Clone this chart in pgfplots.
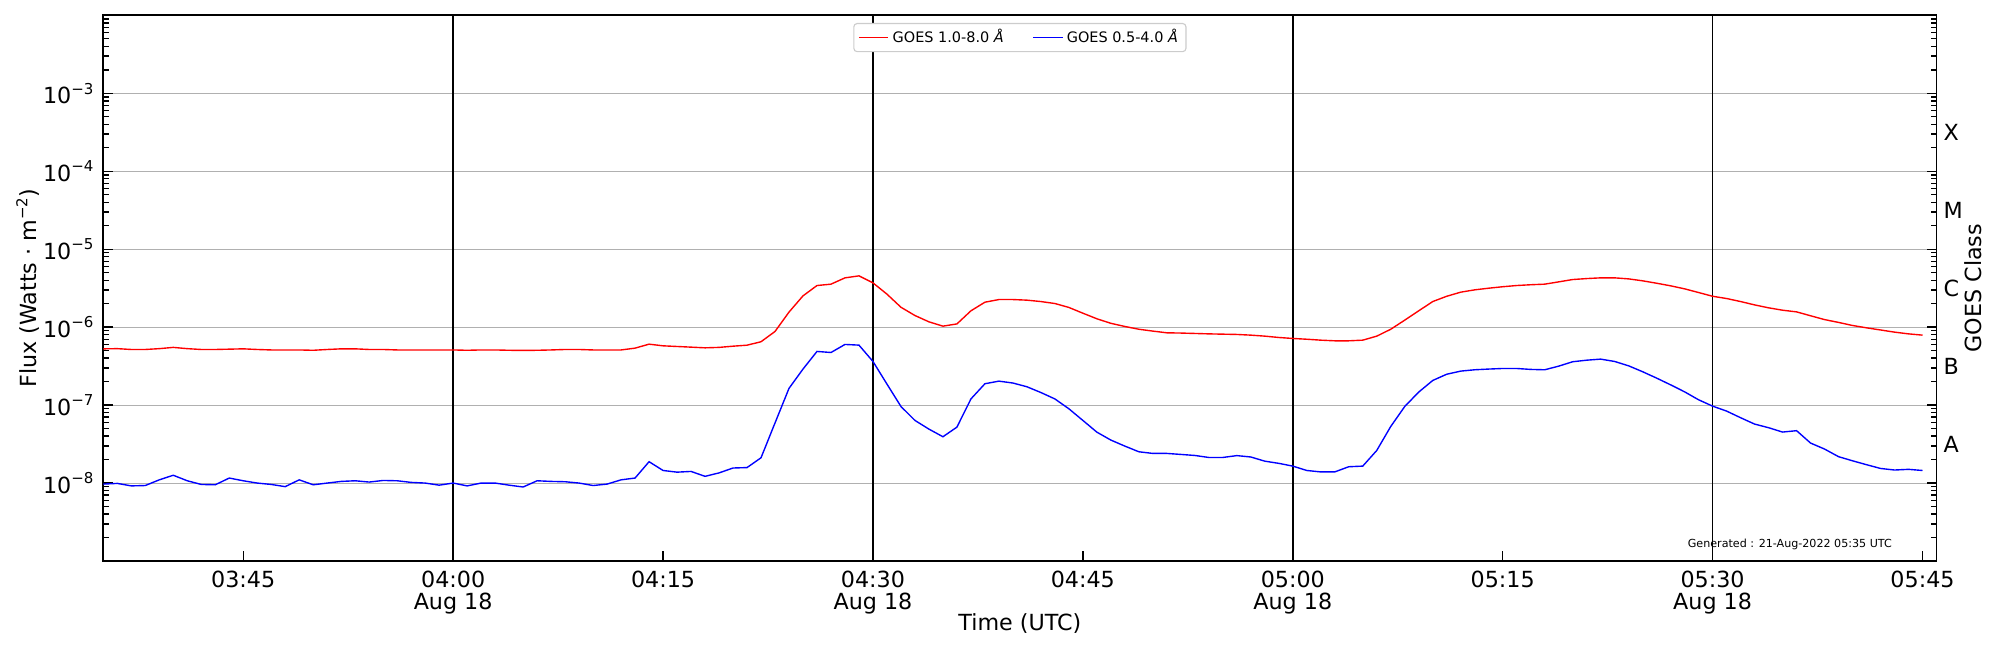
\documentclass[border=0pt]{standalone}
\usepackage{fontspec}
\setmainfont{DejaVu Sans}
\usepackage{pgfplots}
\pgfplotsset{compat=1.18}
\definecolor{gridgray}{HTML}{B0B0B0}
\definecolor{legendgray}{HTML}{CCCCCC}
\newcommand{\sexp}[1]{\raisebox{3.3pt}{\fontsize{5.4}{5.4}\selectfont #1}}
\begin{document}
\begin{tikzpicture}
\useasboundingbox (-37.19pt,-32.04pt) rectangle (682.81pt,201.96pt);
\begin{axis}[
  at={(0,0)}, anchor=south west,
  scale only axis, width=659.95pt, height=196.45pt,
  xmin=-25, xmax=106,
  ymode=log, ymin=1e-9, ymax=1e-2,
  xtick={-15,0,15,30,45,60,75,90,105},
  xticklabels={03:45, 04:00\\Aug 18, 04:15, 04:30\\Aug 18, 04:45, 05:00\\Aug 18, 05:15, 05:30\\Aug 18, 05:45},
  xticklabel style={align=center, font=\fontsize{8}{7.9}\selectfont},
  yticklabel style={font=\fontsize{8}{9}\selectfont},
  xtick pos=lower,
  ytick={1e-8,1e-7,1e-6,1e-5,1e-4,1e-3},
  yticklabels={10\sexp{−8},10\sexp{−7},10\sexp{−6},10\sexp{−5},10\sexp{−4},10\sexp{−3}},
  minor ytick={2e-9,3e-9,4e-9,5e-9,6e-9,7e-9,8e-9,9e-9,
    2e-8,3e-8,4e-8,5e-8,6e-8,7e-8,8e-8,9e-8,
    2e-7,3e-7,4e-7,5e-7,6e-7,7e-7,8e-7,9e-7,
    2e-6,3e-6,4e-6,5e-6,6e-6,7e-6,8e-6,9e-6,
    2e-5,3e-5,4e-5,5e-5,6e-5,7e-5,8e-5,9e-5,
    2e-4,3e-4,4e-4,5e-4,6e-4,7e-4,8e-4,9e-4,
    2e-3,3e-3,4e-3,5e-3,6e-3,7e-3,8e-3,9e-3},
  ytick pos=both, yticklabel pos=left,
  tick align=inside,
  major tick length=3.5pt, minor tick length=2pt,
  tick style={black, line width=0.5pt},
  ymajorgrids, major grid style={color=gridgray, line width=0.4pt},
  extra x ticks={0,30,60,90}, extra x tick labels={},
  extra x tick style={xmajorgrids=true, major grid style={black, line width=0.6pt}},
  axis line style={line width=0.6pt},
  label style={font=\fontsize{8}{9.6}\selectfont},
  xlabel={Time (UTC)},
  ylabel={Flux (Watts · m\sexp{−2})},
  xlabel style={at={(axis description cs:0.5,-0.114)}, anchor=center},
  ylabel style={at={(axis description cs:-0.0411,0.5)}, anchor=center},
  legend style={at={(0.5,0.986)}, anchor=north, legend columns=2, draw=legendgray,
    rounded corners=1.2pt, font=\fontsize{5.2}{6}\selectfont, inner xsep=1.6pt, inner ysep=0.6pt,
    nodes={inner sep=1.3pt},
    /tikz/every even column/.append style={column sep=9pt}},
  legend image code/.code={\draw[#1, line width=0.5pt] (0pt,0pt) -- (10.6pt,0pt);},
]
\addplot[red, line width=0.5pt] coordinates {
(-25,5.27e-7)(-24,5.3e-7)(-23,5.17e-7)(-22,5.17e-7)(-21,5.3e-7)(-20,5.5e-7)(-19,5.3e-7)(-18,5.17e-7)(-17,5.17e-7)(-16,5.22e-7)
(-15,5.27e-7)(-14,5.17e-7)(-13,5.1e-7)(-12,5.1e-7)(-11,5.1e-7)(-10,5.05e-7)(-9,5.17e-7)(-8,5.27e-7)(-7,5.27e-7)(-6,5.17e-7)
(-5,5.17e-7)(-4,5.1e-7)(-3,5.1e-7)(-2,5.1e-7)(-1,5.1e-7)(0,5.1e-7)(1,5.05e-7)(2,5.1e-7)(3,5.1e-7)(4,5.05e-7)
(5,5.03e-7)(6,5.05e-7)(7,5.1e-7)(8,5.17e-7)(9,5.17e-7)(10,5.1e-7)(11,5.1e-7)(12,5.1e-7)(13,5.38e-7)(14,6.05e-7)
(15,5.76e-7)(16,5.65e-7)(17,5.54e-7)(18,5.43e-7)(19,5.5e-7)(20,5.7e-7)(21,5.87e-7)(22,6.5e-7)(23,8.8e-7)(24,1.56e-6)
(25,2.52e-6)(26,3.42e-6)(27,3.56e-6)(28,4.29e-6)(29,4.55e-6)(30,3.7e-6)(31,2.65e-6)(32,1.8e-6)(33,1.41e-6)(34,1.17e-6)
(35,1.03e-6)(36,1.1e-6)(37,1.62e-6)(38,2.09e-6)(39,2.26e-6)(40,2.26e-6)(41,2.22e-6)(42,2.13e-6)(43,2.01e-6)(44,1.79e-6)
(45,1.51e-6)(46,1.28e-6)(47,1.12e-6)(48,1.02e-6)(49,9.4e-7)(50,8.9e-7)(51,8.46e-7)(52,8.4e-7)(53,8.3e-7)(54,8.2e-7)
(55,8.13e-7)(56,8.06e-7)(57,7.9e-7)(58,7.67e-7)(59,7.37e-7)(60,7.16e-7)(61,7.0e-7)(62,6.81e-7)(63,6.68e-7)(64,6.68e-7)
(65,6.81e-7)(66,7.67e-7)(67,9.4e-7)(68,1.23e-6)(69,1.62e-6)(70,2.13e-6)(71,2.49e-6)(72,2.81e-6)(73,3.01e-6)(74,3.16e-6)
(75,3.3e-6)(76,3.42e-6)(77,3.5e-6)(78,3.56e-6)(79,3.81e-6)(80,4.08e-6)(81,4.2e-6)(82,4.29e-6)(83,4.29e-6)(84,4.16e-6)
(85,3.93e-6)(86,3.66e-6)(87,3.39e-6)(88,3.1e-6)(89,2.78e-6)(90,2.49e-6)(91,2.33e-6)(92,2.13e-6)(93,1.93e-6)(94,1.77e-6)
(95,1.65e-6)(96,1.57e-6)(97,1.4e-6)(98,1.25e-6)(99,1.15e-6)(100,1.05e-6)(101,9.8e-7)(102,9.2e-7)(103,8.63e-7)(104,8.2e-7)
(105,7.9e-7)};
\addlegendentry{GOES 1.0-8.0 \textit{Å}}
\addplot[blue, line width=0.5pt] coordinates {
(-25,9.7e-9)(-24,9.9e-9)(-23,9.2e-9)(-22,9.3e-9)(-21,1.1e-8)(-20,1.26e-8)(-19,1.07e-8)(-18,9.6e-9)(-17,9.5e-9)(-16,1.16e-8)
(-15,1.07e-8)(-14,1.0e-8)(-13,9.6e-9)(-12,9.0e-9)(-11,1.1e-8)(-10,9.5e-9)(-9,1.0e-8)(-8,1.05e-8)(-7,1.07e-8)(-6,1.03e-8)
(-5,1.08e-8)(-4,1.07e-8)(-3,1.02e-8)(-2,1.0e-8)(-1,9.4e-9)(0,1.0e-8)(1,9.2e-9)(2,1.0e-8)(3,1.0e-8)(4,9.4e-9)
(5,8.9e-9)(6,1.07e-8)(7,1.05e-8)(8,1.04e-8)(9,1.0e-8)(10,9.3e-9)(11,9.7e-9)(12,1.1e-8)(13,1.16e-8)(14,1.88e-8)
(15,1.45e-8)(16,1.38e-8)(17,1.41e-8)(18,1.22e-8)(19,1.35e-8)(20,1.56e-8)(21,1.58e-8)(22,2.11e-8)(23,5.9e-8)(24,1.64e-7)
(25,2.9e-7)(26,4.88e-7)(27,4.73e-7)(28,6.0e-7)(29,5.88e-7)(30,3.63e-7)(31,1.86e-7)(32,9.6e-8)(33,6.36e-8)(34,4.92e-8)
(35,3.93e-8)(36,5.22e-8)(37,1.2e-7)(38,1.88e-7)(39,2.03e-7)(40,1.92e-7)(41,1.72e-7)(42,1.45e-7)(43,1.2e-7)(44,8.97e-8)
(45,6.36e-8)(46,4.5e-8)(47,3.56e-8)(48,2.98e-8)(49,2.52e-8)(50,2.4e-8)(51,2.4e-8)(52,2.33e-8)(53,2.26e-8)(54,2.13e-8)
(55,2.13e-8)(56,2.25e-8)(57,2.16e-8)(58,1.91e-8)(59,1.79e-8)(60,1.65e-8)(61,1.45e-8)(62,1.39e-8)(63,1.39e-8)(64,1.62e-8)
(65,1.65e-8)(66,2.62e-8)(67,5.32e-8)(68,9.6e-8)(69,1.47e-7)(70,2.07e-7)(71,2.49e-7)(72,2.73e-7)(73,2.84e-7)(74,2.9e-7)
(75,2.95e-7)(76,2.95e-7)(77,2.87e-7)(78,2.84e-7)(79,3.16e-7)(80,3.6e-7)(81,3.77e-7)(82,3.89e-7)(83,3.63e-7)(84,3.19e-7)
(85,2.68e-7)(86,2.22e-7)(87,1.82e-7)(88,1.48e-7)(89,1.17e-7)(90,9.7e-8)(91,8.38e-8)(92,6.89e-8)(93,5.71e-8)(94,5.13e-8)
(95,4.51e-8)(96,4.7e-8)(97,3.26e-8)(98,2.73e-8)(99,2.18e-8)(100,1.93e-8)(101,1.72e-8)(102,1.54e-8)(103,1.47e-8)(104,1.5e-8)
(105,1.45e-8)};
\addlegendentry{GOES 0.5-4.0 \textit{Å}}
\node[font=\fontsize{4}{5}\selectfont, anchor=center] at (rel axis cs:0.920,0.0306) {Generated : 21-Aug-2022 05:35 UTC};
\end{axis}
\begin{axis}[
  at={(0,0)}, anchor=south west,
  scale only axis, width=659.95pt, height=196.45pt,
  xmin=-25, xmax=106,
  ymode=log, ymin=1e-9, ymax=1e-2,
  xtick=\empty,
  axis line style={draw=none},
  ytick={3.1623e-8,3.1623e-7,3.1623e-6,3.1623e-5,3.1623e-4},
  yticklabels={A,B,C,M,X},
  yticklabel pos=right,
  minor ytick={},
  ytick style={draw=none},
  yticklabel style={font=\fontsize{8}{9}\selectfont, anchor=west, inner sep=0pt, xshift=2.4pt},
  ylabel={GOES Class},
  label style={font=\fontsize{8}{9.6}\selectfont},
  ylabel style={at={(axis description cs:1.0199,0.5)}, anchor=center},
]
\addplot[draw=none, forget plot] coordinates {(0,1e-5)};
\end{axis}
\end{tikzpicture}
\end{document}
